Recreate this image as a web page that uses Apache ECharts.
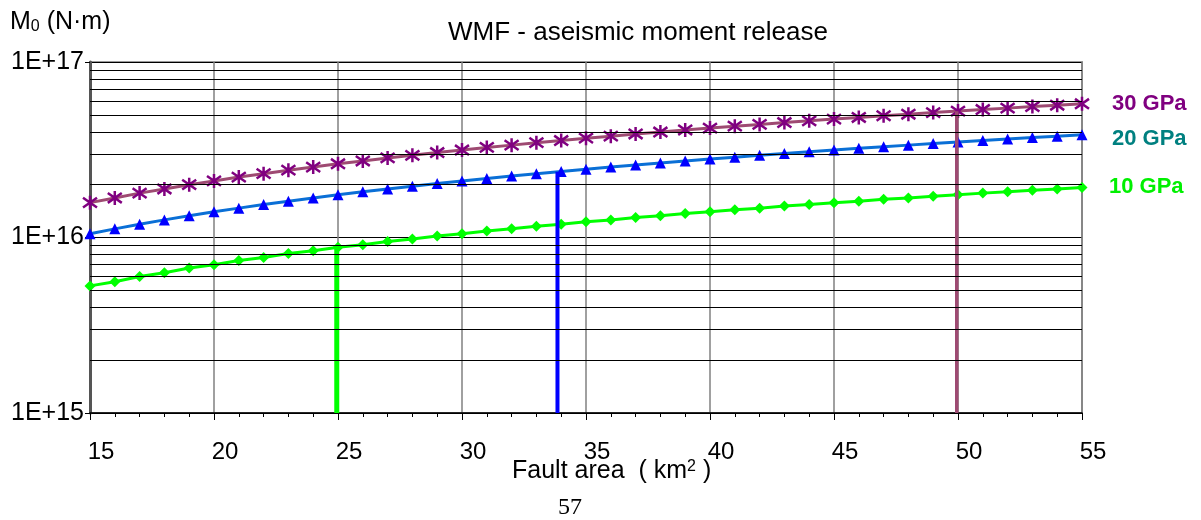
<!DOCTYPE html>
<html>
<head>
<meta charset="utf-8">
<script src="https://cdn.jsdelivr.net/npm/echarts@6/dist/echarts.min.js"></script>
<style>html,body{margin:0;padding:0;background:#fff}#c{width:1201px;height:520px}</style>
</head>
<body>
<div id="c"></div>
<script>
// Fault area (km^2)
var areas = [15,16,17,18,19,20,21,22,23,24,25,26,27,28,29,30,31,32,33,34,35,36,37,38,39,40,41,42,43,44,45,46,47,48,49,50,51,52,53,54,55];
// Moment M0 (N·m), values in units of 1E+15
var m10 = [5.3,5.6,6.0,6.3,6.7,7.0,7.4,7.7,8.1,8.4,8.8,9.1,9.5,9.8,10.2,10.5,10.9,11.2,11.6,11.9,12.3,12.6,13.0,13.3,13.7,14.0,14.4,14.7,15.1,15.4,15.8,16.1,16.5,16.8,17.2,17.5,17.9,18.2,18.6,18.9,19.3];
var m20 = [10.5,11.2,11.9,12.6,13.3,14.0,14.7,15.4,16.1,16.8,17.5,18.2,18.9,19.6,20.3,21.0,21.7,22.4,23.1,23.8,24.5,25.2,25.9,26.6,27.3,28.0,28.7,29.4,30.1,30.8,31.5,32.2,32.9,33.6,34.3,35.0,35.7,36.4,37.1,37.8,38.5];
var m30 = [15.8,16.8,17.9,18.9,20.0,21.0,22.1,23.1,24.2,25.2,26.3,27.3,28.4,29.4,30.5,31.5,32.6,33.6,34.7,35.7,36.8,37.8,38.9,39.9,41.0,42.0,43.1,44.1,45.2,46.2,47.3,48.3,49.4,50.4,51.5,52.5,53.6,54.6,55.7,56.7,57.8];
var seriesNames = ['10 GPa','20 GPa','30 GPa'];
// vertical marker lines: area and top value (units of 1E+15)
var markerArea = [24.95, 33.85, 49.95];
var markerTop = [8.7, 23.7, 52.4];
// log grid lines (units of 1E+15)
var logGrid = [2,3,4,5,6,7,8,9,20,30,40,50,60,70,80,90];
var unit = 1e15;

function pairs(vals){ return areas.map(function(a,i){ return [a, vals[i]*unit]; }); }
function vline(i){ return [[markerArea[i], 1*unit],[markerArea[i], markerTop[i]*unit]]; }

var chart = echarts.init(document.getElementById('c'), null, {renderer:'canvas'});
var ff = '"Liberation Sans", Arial, sans-serif';
var star = 'path://M10,0 L10,20 M1,3 L19,17 M1,17 L19,3';

chart.setOption({
  animation: false,
  textStyle: {fontFamily: ff},
  grid: {left: 90, right: 119, top: 62, bottom: 107, show: true, borderColor: '#9a9a9a', borderWidth: 2, backgroundColor: 'transparent'},
  xAxis: {
    type: 'value', min: 15, max: 55, interval: 5,
    axisLine: {show: true, onZero: false, lineStyle: {color: '#000', width: 1.5}},
    axisTick: {show: true, length: 7, lineStyle: {color: '#000', width: 1}},
    minorTick: {show: true, splitNumber: 5, length: 4, lineStyle: {color: '#000', width: 1}},
    axisLabel: {fontSize: 24, color: '#000', margin: 27, align: 'center', padding: [0, 0, 0, 22], fontFamily: ff},
    splitLine: {show: true, lineStyle: {color: '#808080', width: 1.5}}
  },
  yAxis: {
    type: 'log', logBase: 10, min: 1e15, max: 1e17,
    axisLine: {show: true, lineStyle: {color: '#555', width: 3}},
    axisTick: {show: true, length: 5, lineStyle: {color: '#000', width: 1}},
    axisLabel: {fontSize: 25, color: '#000', margin: 6, fontFamily: ff,
      formatter: function(v){ return '1E+' + Math.round(Math.log10(v)); }},
    splitLine: {show: true, lineStyle: {color: '#000', width: 1}}
  },
  graphic: [
    {type: 'text', left: 448, top: 20, style: {text: 'WMF - aseismic moment release', fontSize: 26, fill: '#000', fontFamily: ff}},
    {type: 'text', left: 10, top: 10, style: {
      text: '{a|M}{s|0}{a| (N·m)}', fontFamily: ff,
      rich: {a: {fontSize: 25, fill: '#000', fontFamily: ff}, s: {fontSize: 16, fill: '#000', verticalAlign: 'bottom', fontFamily: ff}}
    }},
    {type: 'text', left: 512, top: 459, style: {
      text: '{a|Fault area  ( km}{s|2}{a| )}', fontFamily: ff,
      rich: {a: {fontSize: 25, fill: '#000', fontFamily: ff}, s: {fontSize: 16, fill: '#000', verticalAlign: 'top', fontFamily: ff}}
    }},
    {type: 'text', left: 558, top: 496, style: {text: '57', fontSize: 24, fill: '#000', fontFamily: '"Liberation Serif", "Times New Roman", serif'}}
  ],
  series: [
    {type: 'line', data: [], z: 1, silent: true,
      markLine: {silent: true, symbol: 'none', animation: false, label: {show: false},
        lineStyle: {color: '#000', width: 1, type: 'solid'},
        data: logGrid.map(function(g){ return {yAxis: g*unit}; })}},
    {name: seriesNames[0], type: 'line', z: 3, data: pairs(m10), symbol: 'diamond', symbolSize: 11,
      lineStyle: {color: '#00ff00', width: 3}, itemStyle: {color: '#00ff00'},
      endLabel: {show: true, formatter: seriesNames[0], distance: 27, color: '#00f000', fontSize: 22, fontWeight: 'bold', fontFamily: ff}},
    {name: seriesNames[1], type: 'line', z: 3, data: pairs(m20), symbol: 'triangle', symbolSize: 11,
      lineStyle: {color: '#0a6fd6', width: 3}, itemStyle: {color: '#0000ff'},
      endLabel: {show: true, formatter: seriesNames[1], distance: 30, offset: [0, 4], color: '#008080', fontSize: 22, fontWeight: 'bold', fontFamily: ff}},
    {name: seriesNames[2], type: 'line', z: 3, data: pairs(m30), symbol: star, symbolSize: 14,
      lineStyle: {color: '#9e4a72', width: 3}, itemStyle: {color: '#800080', borderColor: '#800080', borderWidth: 2.5},
      endLabel: {show: true, formatter: seriesNames[2], distance: 30, color: '#800080', fontSize: 22, fontWeight: 'bold', fontFamily: ff}},
    {type: 'line', z: 4, data: vline(0), symbol: 'none', lineStyle: {color: '#00ff00', width: 5}},
    {type: 'line', z: 4, data: vline(1), symbol: 'none', lineStyle: {color: '#0000ff', width: 4}},
    {type: 'line', z: 4, data: vline(2), symbol: 'none', lineStyle: {color: '#9e4a72', width: 3.5}}
  ]
});
</script>
</body>
</html>
